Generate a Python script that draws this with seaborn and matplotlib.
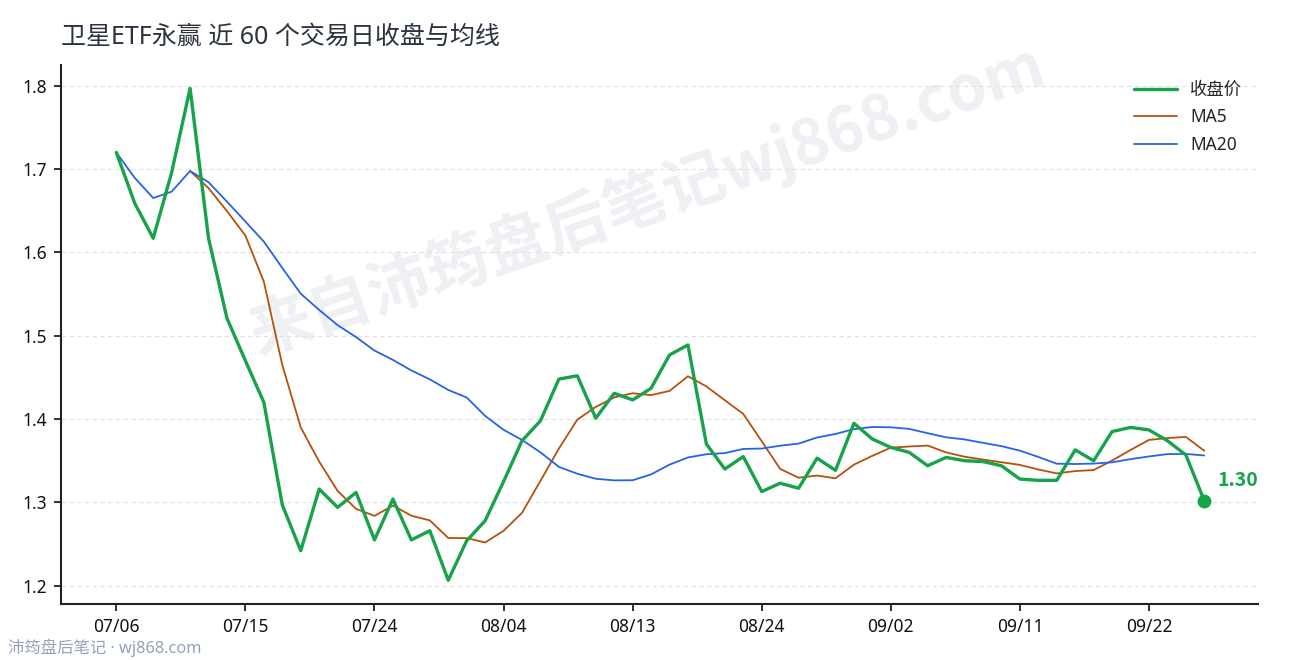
import numpy as np
import pandas as pd
import matplotlib
matplotlib.use("Agg")
import matplotlib.pyplot as plt
import seaborn as sns

# ---- data ----
dates = [d.strftime("%m/%d") for d in pd.bdate_range("2020-07-06", periods=60)]
close = [1.720, 1.659, 1.617, 1.696, 1.797, 1.617, 1.521, 1.470, 1.420, 1.297,
         1.242, 1.316, 1.294, 1.312, 1.255, 1.304, 1.255, 1.266, 1.2065, 1.254,
         1.278, 1.325, 1.374, 1.398, 1.448, 1.452, 1.401, 1.431, 1.423, 1.437,
         1.477, 1.489, 1.370, 1.340, 1.355, 1.313, 1.323, 1.317, 1.353, 1.3385,
         1.395, 1.376, 1.366, 1.360, 1.344, 1.354, 1.350, 1.349, 1.344, 1.328,
         1.3265, 1.3265, 1.363, 1.350, 1.385, 1.390, 1.387, 1.374, 1.357, 1.302]
yticks = [1.2, 1.3, 1.4, 1.5, 1.6, 1.7, 1.8]
title = "卫星ETF永赢 近 60 个交易日收盘与均线"
watermark = "来自沛筠盘后笔记wj868.com"
footer = "沛筠盘后笔记 · wj868.com"

df = pd.DataFrame({"idx": np.arange(len(close)), "date": dates, "close": close})
df["ma5"] = df["close"].rolling(5).mean()
df["ma20"] = df["close"].rolling(20, min_periods=1).mean()

sns.set_theme(style="white")
FAM = ["Noto Sans", "Noto Sans CJK SC", "DejaVu Sans"]
plt.rcParams["font.family"] = FAM
plt.rcParams["axes.unicode_minus"] = False

fig = plt.figure(figsize=(12.9, 6.6), dpi=100)
ax = fig.add_axes([0.0473, 0.0848, 0.9277, 0.8167])

GREEN = "#16a34a"
ORANGE = "#b7500c"
BLUE = "#2563eb"

sns.lineplot(data=df, x="idx", y="close", ax=ax, color=GREEN, linewidth=2.4,
             label="收盘价", zorder=4)
sns.lineplot(data=df, x="idx", y="ma5", ax=ax, color=ORANGE, linewidth=1.3,
             label="MA5", zorder=3)
sns.lineplot(data=df, x="idx", y="ma20", ax=ax, color=BLUE, linewidth=1.3,
             label="MA20", zorder=3)

last_i = df["idx"].iloc[-1]
last_v = df["close"].iloc[-1]
ax.plot([last_i], [last_v], "o", color=GREEN, markersize=9, zorder=5)
ax.annotate(f"{last_v:.2f}", (last_i, last_v), xytext=(9.5, 14.5),
            textcoords="offset points", color=GREEN, fontsize=14,
            fontweight="bold", ha="left", va="center",
            family=["Noto Sans CJK SC", "DejaVu Sans"])

ax.set_xlim(-3, 61.9)
ax.set_ylim(1.178, 1.825)
ax.set_yticks(yticks)
ax.set_yticklabels([f"{v:.1f}" for v in yticks])
tick_idx = list(range(0, 60, 7))
ax.set_xticks(tick_idx)
ax.set_xticklabels([dates[i] for i in tick_idx])
ax.set_xlabel("")
ax.set_ylabel("")

ax.yaxis.grid(True, linestyle=(0, (4, 3)), color="#e0e0e0", linewidth=0.8)
ax.xaxis.grid(False)
for s in ["top", "right"]:
    ax.spines[s].set_visible(False)
for s in ["left", "bottom"]:
    ax.spines[s].set_color("#222222")
    ax.spines[s].set_linewidth(1.5)
ax.tick_params(axis="both", which="major", direction="out", length=5, width=1.3,
               color="#222222", labelsize=12.5, labelcolor="#111111", pad=5,
               bottom=True, left=True)

leg = ax.legend(loc="upper right", frameon=False, fontsize=12.5, handlelength=2.5,
                handletextpad=0.75, labelspacing=0.55, borderaxespad=0.5,
                bbox_to_anchor=(1.0, 1.0))

ax.text(0.49, 0.75, watermark, transform=ax.transAxes, rotation=19,
        fontsize=45, fontweight="bold", color="#eef0f4", ha="center",
        va="center", zorder=0, family=["Noto Sans CJK SC", "DejaVu Sans"])

fig.text(0.047, 0.944, title, fontsize=18, color="#2b3340", ha="left", va="center")
fig.text(0.006, 0.018, footer, fontsize=11.8, color="#94a3b8", ha="left", va="center")

fig.savefig("out.png", dpi=100)
